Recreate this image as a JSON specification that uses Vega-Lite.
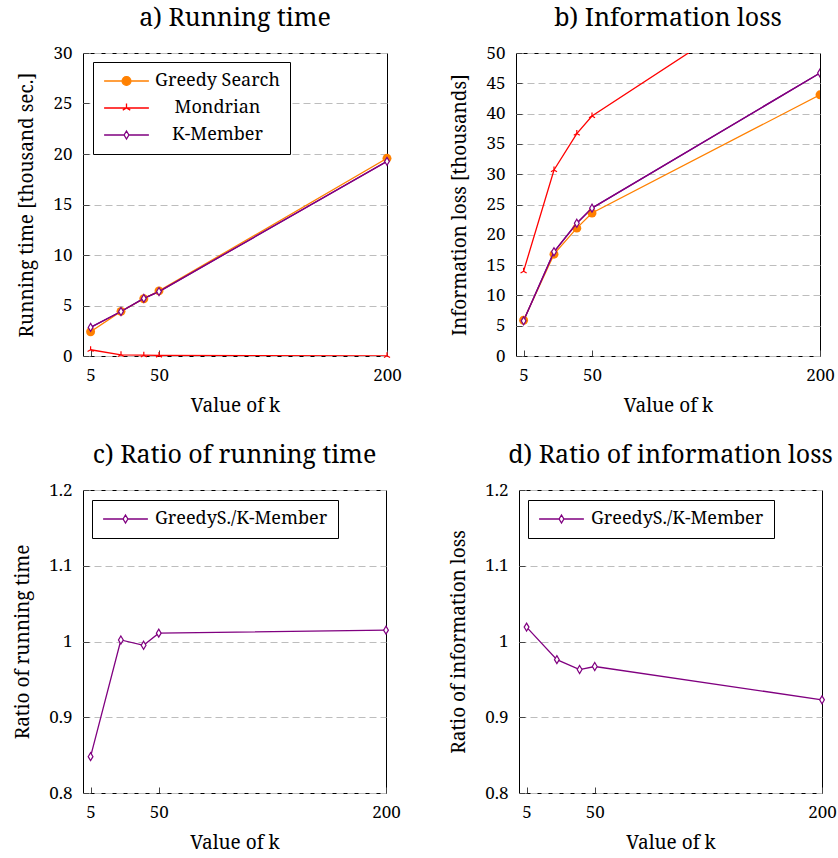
{
  "$schema": "https://vega.github.io/schema/vega-lite/v6.json",
  "padding": {"left": 13, "top": 5, "right": 2, "bottom": 2},
  "background": "white",
  "config": {
    "font": "Noto Serif",
    "view": {"stroke": "black", "strokeWidth": 1},
    "title": {"font": "Noto Serif", "fontSize": 25, "fontWeight": "normal", "color": "black", "offset": 13},
    "axis": {
      "labelFont": "Noto Serif", "titleFont": "Noto Serif",
      "labelFontSize": 17, "titleFontSize": 19, "titleFontWeight": "normal",
      "labelColor": "black", "titleColor": "black",
      "domain": false, "tickColor": "#444444", "tickSize": -6, "tickWidth": 1,
      "labelPadding": 17, "titlePadding": 16,
      "labelFlush": false, "labelOverlap": false,
      "gridColor": "#bdbdbd", "gridDash": [7, 4], "gridWidth": 1
    },
    "axisX": {"titlePadding": 13},
    "legend": {
      "labelFont": "Noto Serif", "labelFontSize": 18, "labelColor": "black", "labelLimit": 400,
      "strokeColor": "black", "fillColor": "white", "padding": 10, "cornerRadius": 0,
      "symbolSize": 256, "symbolOffset": 14.5, "symbolStrokeWidth": 1.3
    }
  },
  "datasets": {
    "ra": [
      {"k": 5, "v": 2.4, "s": "Greedy Search"}, {"k": 25, "v": 4.42, "s": "Greedy Search"}, {"k": 40, "v": 5.67, "s": "Greedy Search"}, {"k": 50, "v": 6.45, "s": "Greedy Search"}, {"k": 200, "v": 19.57, "s": "Greedy Search"},
      {"k": 5, "v": 0.62, "s": "Mondrian"}, {"k": 25, "v": 0.12, "s": "Mondrian"}, {"k": 40, "v": 0.08, "s": "Mondrian"}, {"k": 50, "v": 0.06, "s": "Mondrian"}, {"k": 200, "v": 0.02, "s": "Mondrian"},
      {"k": 5, "v": 2.83, "s": "K-Member"}, {"k": 25, "v": 4.41, "s": "K-Member"}, {"k": 40, "v": 5.7, "s": "K-Member"}, {"k": 50, "v": 6.38, "s": "K-Member"}, {"k": 200, "v": 19.27, "s": "K-Member"}
    ],
    "rb": [
      {"k": 5, "v": 5.9, "s": "Greedy Search"}, {"k": 25, "v": 16.8, "s": "Greedy Search"}, {"k": 40, "v": 21.1, "s": "Greedy Search"}, {"k": 50, "v": 23.6, "s": "Greedy Search"}, {"k": 200, "v": 43.1, "s": "Greedy Search"},
      {"k": 5, "v": 14.0, "s": "Mondrian"}, {"k": 25, "v": 30.7, "s": "Mondrian"}, {"k": 40, "v": 36.7, "s": "Mondrian"}, {"k": 50, "v": 39.6, "s": "Mondrian"}, {"k": 200, "v": 64.2, "s": "Mondrian"},
      {"k": 5, "v": 5.8, "s": "K-Member"}, {"k": 25, "v": 17.2, "s": "K-Member"}, {"k": 40, "v": 21.9, "s": "K-Member"}, {"k": 50, "v": 24.4, "s": "K-Member"}, {"k": 200, "v": 46.7, "s": "K-Member"}
    ],
    "rc": [
      {"k": 5, "v": 0.848, "s": "GreedyS./K-Member"}, {"k": 25, "v": 1.002, "s": "GreedyS./K-Member"}, {"k": 40, "v": 0.995, "s": "GreedyS./K-Member"}, {"k": 50, "v": 1.011, "s": "GreedyS./K-Member"}, {"k": 200, "v": 1.015, "s": "GreedyS./K-Member"}
    ],
    "rd": [
      {"k": 5, "v": 1.019, "s": "GreedyS./K-Member"}, {"k": 25, "v": 0.976, "s": "GreedyS./K-Member"}, {"k": 40, "v": 0.963, "s": "GreedyS./K-Member"}, {"k": 50, "v": 0.967, "s": "GreedyS./K-Member"}, {"k": 200, "v": 0.923, "s": "GreedyS./K-Member"}
    ]
  },
  "vconcat": [
    {
      "hconcat": [
        {
          "title": "a) Running time",
          "width": 304, "height": 303,
          "data": {"name": "ra"},
          "encoding": {
            "x": {"field": "k", "type": "quantitative", "scale": {"domain": [0, 200], "nice": false, "zero": false}, "axis": {"values": [5, 50, 200], "title": "Value of k", "grid": false}},
            "y": {"field": "v", "type": "quantitative", "scale": {"domain": [0, 30], "nice": false}, "axis": {"values": [0, 5, 10, 15, 20, 25, 30], "title": "Running time [thousand sec.]", "grid": true}}
          },
          "layer": [
            {"mark": {"type": "line", "strokeWidth": 1.3, "clip": true},
             "encoding": {"color": {"field": "s", "type": "nominal",
               "scale": {"domain": ["Greedy Search", "Mondrian", "K-Member"], "range": ["#ff8000", "#ff0000", "#800080"]},
               "legend": {"orient": "none", "legendX": 10, "legendY": 9, "title": null, "labelAlign": "center", "labelOffset": 82, "rowPadding": 9,
                 "encode": {"symbols": {"update": {
                   "shape": {"signal": "datum.value === 'Greedy Search' ? 'M-2.8,0H-0.55M0.55,0H2.8M-0.55,0A0.55,0.55 0 1,1 0.55,0A0.55,0.55 0 1,1 -0.55,0Z' : datum.value === 'Mondrian' ? 'M-2.8,0H2.8M0,0V-0.55M0,0L-0.47,0.27M0,0L0.47,0.27' : 'M-2.8,0H-0.3M0.3,0H2.8M0,-0.5L0.3,0L0,0.5L-0.3,0Z'"},
                   "fill": {"signal": "datum.value === 'Greedy Search' ? '#ff8000' : datum.value === 'Mondrian' ? 'transparent' : 'white'"},
                   "strokeWidth": {"value": 1.3},
                   "opacity": {"value": 1}
                 }}}}}}},
            {"transform": [{"filter": "datum.s === 'Greedy Search'"}], "mark": {"type": "point", "shape": "circle", "size": 80, "filled": true, "color": "#ff8000", "opacity": 1}},
            {"transform": [{"filter": "datum.s === 'Mondrian'"}], "mark": {"type": "point", "shape": "M0,0V-1M0,0L-0.866,0.5M0,0L0.866,0.5", "size": 49, "filled": false, "stroke": "#ff0000", "strokeWidth": 1.2, "opacity": 1}},
            {"transform": [{"filter": "datum.s === 'K-Member'"}], "mark": {"type": "line", "color": "#800080", "strokeWidth": 1.3}},
            {"transform": [{"filter": "datum.s === 'K-Member'"}], "mark": {"type": "point", "shape": "M0,-1L0.6,0L0,1L-0.6,0Z", "size": 64, "filled": false, "stroke": "#800080", "fill": "white", "strokeWidth": 1.2, "opacity": 1}}
          ]
        },
        {
          "title": "b) Information loss",
          "width": 304, "height": 303,
          "data": {"name": "rb"},
          "encoding": {
            "x": {"field": "k", "type": "quantitative", "scale": {"domain": [0, 200], "nice": false, "zero": false}, "axis": {"values": [5, 50, 200], "title": "Value of k", "grid": false}},
            "y": {"field": "v", "type": "quantitative", "scale": {"domain": [0, 50], "nice": false}, "axis": {"values": [0, 5, 10, 15, 20, 25, 30, 35, 40, 45, 50], "title": "Information loss [thousands]", "grid": true}}
          },
          "layer": [
            {"mark": {"type": "line", "strokeWidth": 1.3, "clip": true},
             "encoding": {"color": {"field": "s", "type": "nominal",
               "scale": {"domain": ["Greedy Search", "Mondrian", "K-Member"], "range": ["#ff8000", "#ff0000", "#800080"]},
               "legend": null}}},
            {"transform": [{"filter": "datum.s === 'Greedy Search'"}], "mark": {"type": "point", "shape": "circle", "size": 80, "filled": true, "color": "#ff8000", "opacity": 1, "clip": true}},
            {"transform": [{"filter": "datum.s === 'Mondrian'"}], "mark": {"type": "point", "shape": "M0,0V-1M0,0L-0.866,0.5M0,0L0.866,0.5", "size": 49, "filled": false, "stroke": "#ff0000", "strokeWidth": 1.2, "opacity": 1, "clip": true}},
            {"transform": [{"filter": "datum.s === 'K-Member'"}], "mark": {"type": "line", "color": "#800080", "strokeWidth": 1.3, "clip": true}},
            {"transform": [{"filter": "datum.s === 'K-Member'"}], "mark": {"type": "point", "shape": "M0,-1L0.6,0L0,1L-0.6,0Z", "size": 64, "filled": false, "stroke": "#800080", "fill": "white", "strokeWidth": 1.2, "opacity": 1, "clip": true}}
          ]
        }
      ],
      "spacing": 48,
      "resolve": {"scale": {"color": "independent"}, "legend": {"color": "independent"}}
    },
    {
      "hconcat": [
        {
          "title": "c) Ratio of running time",
          "width": 303, "height": 303,
          "data": {"name": "rc"},
          "encoding": {
            "x": {"field": "k", "type": "quantitative", "scale": {"domain": [0, 200], "nice": false, "zero": false}, "axis": {"values": [5, 50, 200], "title": "Value of k", "grid": false}},
            "y": {"field": "v", "type": "quantitative", "scale": {"domain": [0.8, 1.2], "nice": false, "zero": false}, "axis": {"values": [0.8, 0.9, 1, 1.1, 1.2], "format": "~g", "title": "Ratio of running time", "grid": true}}
          },
          "layer": [
            {"mark": {"type": "line", "strokeWidth": 1.3},
             "encoding": {"color": {"field": "s", "type": "nominal",
               "scale": {"domain": ["GreedyS./K-Member"], "range": ["#800080"]},
               "legend": {"orient": "none", "legendX": 9, "legendY": 10, "title": null, "labelAlign": "left", "labelOffset": 20.5, "padding": 10,
                 "encode": {"symbols": {"update": {
                   "shape": {"value": "M-2.8,0H-0.3M0.3,0H2.8M0,-0.5L0.3,0L0,0.5L-0.3,0Z"},
                   "fill": {"value": "white"},
                   "strokeWidth": {"value": 1.3},
                   "opacity": {"value": 1}
                 }}}}}}},
            {"mark": {"type": "point", "shape": "M0,-1L0.6,0L0,1L-0.6,0Z", "size": 64, "filled": false, "stroke": "#800080", "fill": "white", "strokeWidth": 1.2, "opacity": 1}}
          ]
        },
        {
          "title": "d) Ratio of information loss",
          "width": 303, "height": 303,
          "data": {"name": "rd"},
          "encoding": {
            "x": {"field": "k", "type": "quantitative", "scale": {"domain": [0, 200], "nice": false, "zero": false}, "axis": {"values": [5, 50, 200], "title": "Value of k", "grid": false}},
            "y": {"field": "v", "type": "quantitative", "scale": {"domain": [0.8, 1.2], "nice": false, "zero": false}, "axis": {"values": [0.8, 0.9, 1, 1.1, 1.2], "format": "~g", "title": "Ratio of information loss", "grid": true}}
          },
          "layer": [
            {"mark": {"type": "line", "strokeWidth": 1.3},
             "encoding": {"color": {"field": "s", "type": "nominal",
               "scale": {"domain": ["GreedyS./K-Member"], "range": ["#800080"]},
               "legend": {"orient": "none", "legendX": 9, "legendY": 10, "title": null, "labelAlign": "left", "labelOffset": 20.5, "padding": 10,
                 "encode": {"symbols": {"update": {
                   "shape": {"value": "M-2.8,0H-0.3M0.3,0H2.8M0,-0.5L0.3,0L0,0.5L-0.3,0Z"},
                   "fill": {"value": "white"},
                   "strokeWidth": {"value": 1.3},
                   "opacity": {"value": 1}
                 }}}}}}},
            {"mark": {"type": "point", "shape": "M0,-1L0.6,0L0,1L-0.6,0Z", "size": 64, "filled": false, "stroke": "#800080", "fill": "white", "strokeWidth": 1.2, "opacity": 1}}
          ]
        }
      ],
      "spacing": 48,
      "resolve": {"scale": {"color": "independent"}, "legend": {"color": "independent"}}
    }
  ],
  "spacing": 26
}
